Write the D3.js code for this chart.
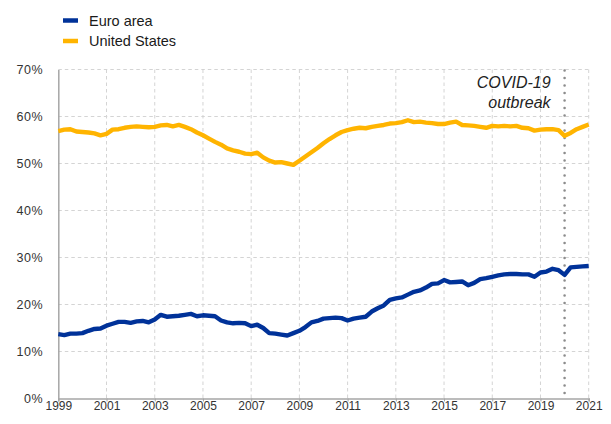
<!DOCTYPE html>
<html>
<head>
<meta charset="utf-8">
<script src="https://cdn.jsdelivr.net/npm/d3@7"></script>
<style>
  body { margin: 0; background: #fff; }
  svg text { font-family: "Liberation Sans", Arial, sans-serif; }
</style>
</head>
<body>
<svg id="chart" width="611" height="424"></svg>
<script>
// quarterly, 1999 Q1 .. 2021 Q1 (share, %)
var startYear = 1999

var euroArea = [
  13.7, 13.5, 13.8, 13.8,
  13.9, 14.4, 14.8, 14.9,
  15.5, 15.9, 16.3, 16.3,
  16.1, 16.4, 16.5, 16.2,
  16.8, 17.8, 17.4, 17.5,
  17.6, 17.8, 18.0, 17.5,
  17.7, 17.6, 17.5, 16.6,
  16.2, 16.0, 16.1, 16.0,
  15.4, 15.7, 15.0, 13.9,
  13.8, 13.6, 13.4, 13.9,
  14.4, 15.2, 16.2, 16.5,
  17.0, 17.1, 17.2, 17.1,
  16.6, 17.0, 17.2, 17.4,
  18.5, 19.2, 19.8, 21.0,
  21.3, 21.5, 22.1, 22.7,
  23.0, 23.6, 24.4, 24.5,
  25.2, 24.7, 24.8, 24.9,
  24.1, 24.6, 25.4, 25.6,
  25.9, 26.2, 26.4, 26.5,
  26.5, 26.4, 26.4, 25.9,
  26.8, 27.0, 27.6, 27.3,
  26.3, 27.9, 28.0, 28.1,
  28.2
]

var unitedStates = [
  56.9, 57.2, 57.3, 56.8,
  56.7, 56.6, 56.4, 56.0,
  56.3, 57.2, 57.3, 57.6,
  57.8, 57.9, 57.8, 57.7,
  57.8, 58.1, 58.2, 57.9,
  58.2, 57.8, 57.3, 56.6,
  56.0, 55.3, 54.6, 54.0,
  53.2, 52.8, 52.5, 52.1,
  52.0, 52.3, 51.3, 50.6,
  50.2, 50.3, 50.0, 49.7,
  50.6, 51.5, 52.4, 53.3,
  54.3, 55.2, 56.0, 56.7,
  57.1, 57.4, 57.6, 57.5,
  57.8, 58.0, 58.2, 58.5,
  58.6, 58.8, 59.2, 58.8,
  58.9, 58.7, 58.6, 58.4,
  58.4, 58.7, 58.9, 58.2,
  58.1, 58.0, 57.8, 57.6,
  58.0, 57.9, 58.0, 57.9,
  58.0, 57.6, 57.5, 57.0,
  57.2, 57.3, 57.3, 57.1,
  55.9, 56.5, 57.3, 57.8,
  58.3
]

var seriesNames = ["Euro area", "United States"]
var seriesColors = ["#003299", "#ffb400"]
var yTicks = [0, 10, 20, 30, 40, 50, 60, 70]
var xTicks = [1999, 2001, 2003, 2005, 2007, 2009, 2011, 2013, 2015, 2017, 2019, 2021]
var covidYear = 2020
var covidLabel = ["COVID-19", "outbreak"]

var margin = {left: 58.3, right: 22.3, top: 69.5, bottom: 25.5}
var width = 611, height = 424

var svg = d3.select("#chart")

var x = d3.scaleLinear()
    .domain([1999, 2021])
    .range([margin.left, width - margin.right])
var y = d3.scaleLinear()
    .domain([0, 70])
    .range([height - margin.bottom, margin.top])

// grid
var grid = svg.append("g")
  .attr("stroke", "#d4d4d4")
  .attr("stroke-width", 1)
  .attr("stroke-dasharray", "3.5,3")

grid.selectAll("line.h")
  .data(yTicks.slice(1))
  .join("line")
  .attr("x1", x(1999)).attr("x2", x(2021))
  .attr("y1", d => y(d)).attr("y2", d => y(d))

grid.selectAll("line.v")
  .data(xTicks.slice(1))
  .join("line")
  .attr("x1", d => x(d)).attr("x2", d => x(d))
  .attr("y1", y(70)).attr("y2", y(0))

// axes
var xAxis = svg.append("g")
  .attr("transform", `translate(0,${y(0)})`)
  .call(d3.axisBottom(x).tickValues(xTicks).tickFormat(d3.format("d")).tickSize(3).tickPadding(0))
xAxis.select(".domain").attr("stroke", "#a6a6a6").attr("stroke-width", 1.5)
xAxis.selectAll(".tick line").attr("stroke", "#a6a6a6")
xAxis.selectAll("text").attr("font-size", 12).attr("fill", "#333")

var yAxis = svg.append("g")
  .attr("transform", `translate(${x(1999)},0)`)
  .call(d3.axisLeft(y).tickValues(yTicks).tickFormat(d => d + "%").tickSize(0).tickPadding(15))
yAxis.select(".domain").attr("stroke", "#a6a6a6").attr("stroke-width", 1.5)
yAxis.selectAll("text").attr("font-size", 12.5).attr("fill", "#333").attr("letter-spacing", 0.6)

// covid marker
svg.append("line")
  .attr("x1", x(covidYear)).attr("x2", x(covidYear))
  .attr("y1", y(70) + 1).attr("y2", y(0) - 2)
  .attr("stroke", "#8c8c8c")
  .attr("stroke-width", 2.6)
  .attr("stroke-linecap", "round")
  .attr("stroke-dasharray", "0,7.5")

svg.append("text")
  .attr("text-anchor", "end")
  .attr("font-size", 16)
  .attr("font-style", "italic")
  .attr("fill", "#222")
  .selectAll("tspan")
  .data(covidLabel)
  .join("tspan")
  .attr("x", x(covidYear) - 14)
  .attr("y", (d, i) => 87.5 + i * 20)
  .text(d => d)

// lines
var line = d3.line()
  .x((d, i) => x(startYear + i / 4))
  .y(d => y(d))

svg.append("g")
  .attr("fill", "none")
  .attr("stroke-width", 4.4)
  .attr("stroke-linejoin", "round")
  .attr("stroke-linecap", "butt")
  .selectAll("path")
  .data([unitedStates, euroArea])
  .join("path")
  .attr("stroke", (d, i) => i == 0 ? seriesColors[1] : seriesColors[0])
  .attr("d", line)

// legend
var legend = svg.append("g")
  .selectAll("g")
  .data(seriesNames)
  .join("g")
  .attr("transform", (d, i) => `translate(63,${20.5 + i * 20.5})`)

legend.append("line")
  .attr("x1", 0).attr("x2", 15)
  .attr("stroke", (d, i) => seriesColors[i])
  .attr("stroke-width", 4.5)

legend.append("text")
  .attr("x", 26)
  .attr("y", 5.3)
  .attr("font-size", 14.5)
  .attr("fill", "#1a1a1a")
  .text(d => d)
</script>
</body>
</html>
